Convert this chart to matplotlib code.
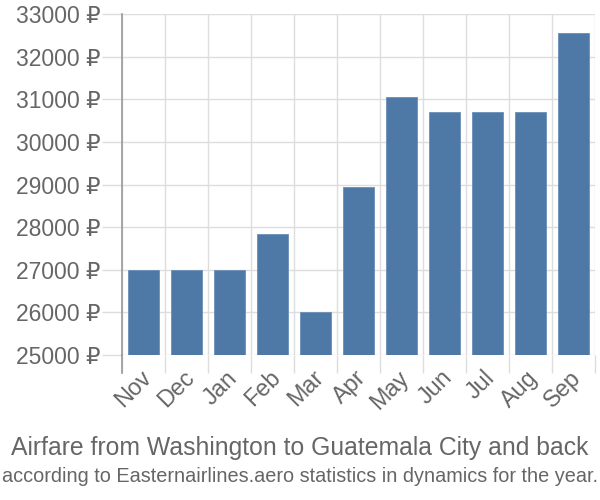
import matplotlib
matplotlib.use("Agg")
import matplotlib.pyplot as plt
from matplotlib.lines import Line2D
from matplotlib.transforms import ScaledTranslation
import numpy as np

months = ["Nov", "Dec", "Jan", "Feb", "Mar", "Apr", "May", "Jun", "Jul", "Aug", "Sep"]
prices = [27000, 27000, 27000, 27850, 26000, 28950, 31060, 30700, 30700, 30700, 32550]
yticks = [25000, 26000, 27000, 28000, 29000, 30000, 31000, 32000, 33000]
title = "Airfare from Washington to Guatemala City and back"
subtitle = "according to Easternairlines.aero statistics in dynamics for the year."

plt.rcParams['font.family'] = ['Liberation Sans', 'DejaVu Sans']

fig = plt.figure(figsize=(6, 5), dpi=100)
ax = fig.add_axes([122/600, 1-355/500, (595-122)/600, (355-14)/500])

x = np.arange(len(months))
ax.bar(x, [p - yticks[0] for p in prices], bottom=yticks[0], width=0.72,
       color="#4e79a7", edgecolor="#6a8fb8", linewidth=0.6, zorder=3)

ax.set_xlim(-0.5, len(months) - 0.5)
ax.set_ylim(yticks[0], yticks[-1])
ax.set_yticks(yticks)
ax.set_yticklabels([f"{v} ₽" for v in yticks])
ax.set_xticks(x)
ax.set_xticklabels(months, rotation=45, ha="right", rotation_mode="anchor")
ax.set_xticks(np.arange(-0.5, len(months)), minor=True)

ax.tick_params(axis="x", which="major", length=0, pad=8, labelsize=16.8, labelcolor="#666666")
ax.tick_params(axis="x", which="minor", length=13, color="#dddddd", width=1)
ax.tick_params(axis="y", length=14.4, color="#dddddd", width=1, labelsize=16.5, labelcolor="#666666", pad=1)

shift = ScaledTranslation(-4/100, 0, fig.dpi_scale_trans)
for lbl in ax.get_xticklabels():
    lbl.set_transform(lbl.get_transform() + shift)

ax.grid(True, axis="y", color="#dddddd", linewidth=1, zorder=0)
ax.grid(True, axis="x", which="minor", color="#dddddd", linewidth=1, zorder=0)
for s in ["top", "right", "bottom"]:
    ax.spines[s].set_visible(False)
ax.spines["left"].set_color("#999999")
ax.spines["left"].set_linewidth(1.2)
ax.spines["left"].set_zorder(4)
ax.add_line(Line2D([0, 0], [-18/341, 0], transform=ax.transAxes, color="#999999",
                   linewidth=1.2, clip_on=False))

fig.text(0.5, 1-448/500, title, ha="center", va="center", fontsize=17.8, color="#666666")
fig.text(0.5, 1-477/500, subtitle, ha="center", va="center", fontsize=14.3, color="#666666")

fig.savefig("out.png", dpi=100)
